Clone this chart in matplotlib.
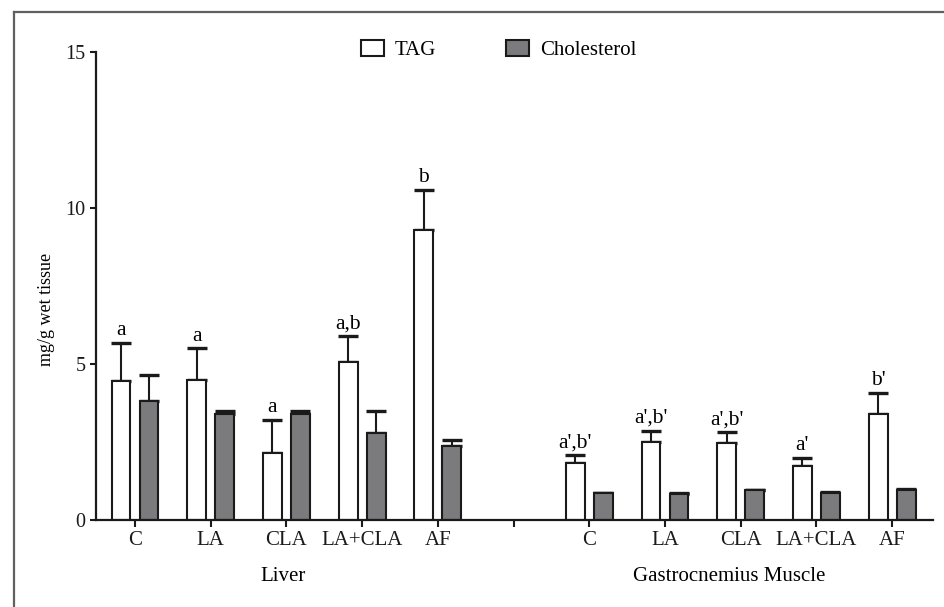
import numpy as np
import matplotlib
matplotlib.use('Agg')
import matplotlib.pyplot as plt
from matplotlib.lines import Line2D
from matplotlib.patches import Patch

plt.rcParams['font.family'] = ['Liberation Serif', 'DejaVu Serif']

groups = ['C', 'LA', 'CLA', 'LA+CLA', 'AF']
tissues = ['Liver', 'Gastrocnemius Muscle']

# liver
tag_liver = [4.45, 4.49, 2.16, 5.08, 9.29]
tag_liver_err = [1.23, 1.01, 1.04, 0.82, 1.29]
chol_liver = [3.81, 3.39, 3.39, 2.80, 2.37]
chol_liver_err = [0.83, 0.11, 0.11, 0.69, 0.19]
lett_liver = ['a', 'a', 'a', 'a,b', 'b']

# gastrocnemius muscle
tag_muscle = [1.82, 2.50, 2.48, 1.74, 3.41]
tag_muscle_err = [0.25, 0.36, 0.34, 0.26, 0.66]
chol_muscle = [0.85, 0.83, 0.95, 0.88, 0.97]
chol_muscle_err = [0.03, 0.02, 0.02, 0.03, 0.03]
lett_muscle = ["a',b'", "a',b'", "a',b'", "a'", "b'"]

x = np.r_[np.arange(5), np.arange(6, 11)]
tag = np.array(tag_liver + tag_muscle)
tag_err = np.array(tag_liver_err + tag_muscle_err)
chol = np.array(chol_liver + chol_muscle)
chol_err = np.array(chol_liver_err + chol_muscle_err)
letters = lett_liver + lett_muscle

GRAY = '#7b7b7e'
EDGE = '#1a1a1a'
w = 0.25
off = 0.185

fig = plt.figure(figsize=(9.45, 6.07), dpi=100)
ax = fig.add_axes([0.1016, 0.1433, 0.8857, 0.771])

err_kw = dict(fmt='none', ecolor=EDGE, elinewidth=1.5, capsize=7, capthick=2.4, zorder=1)
ax.errorbar(x - off, tag, yerr=[np.zeros_like(tag_err), tag_err], **err_kw)
ax.errorbar(x + off, chol, yerr=[np.zeros_like(chol_err), chol_err], **err_kw)
ax.bar(x - off, tag, width=w, color='white', edgecolor=EDGE, linewidth=1.5, zorder=2)
ax.bar(x + off, chol, width=w, color=GRAY, edgecolor=EDGE, linewidth=1.5, zorder=2)

for xi, top, lab in zip(x - off, tag + tag_err, letters):
    ax.annotate(lab, (xi, top), xytext=(0, 2), textcoords='offset points',
                ha='center', va='bottom', fontsize=15.5)

ax.set_xlim(-0.515, 10.54)
ax.set_ylim(0, 15)
ax.set_yticks([0, 5, 10, 15])
ax.set_xticks(np.arange(11))
ax.set_xticklabels(groups + [''] + groups)
ax.tick_params(axis='both', labelsize=15, width=1.5, length=4, direction='out', colors=EDGE)
ax.tick_params(axis='y', labelsize=14.5)
ax.tick_params(axis='x', length=5, pad=3)
for s in ['top', 'right']:
    ax.spines[s].set_visible(False)
for s in ['left', 'bottom']:
    ax.spines[s].set_linewidth(1.6)
    ax.spines[s].set_color(EDGE)

ax.set_ylabel('mg/g wet tissue', fontsize=13)
ax.yaxis.set_label_coords(-0.049, 0.45)

ax.text(1.95, -0.12, tissues[0], transform=ax.get_xaxis_transform(),
        ha='center', va='center', fontsize=15)
ax.text(7.85, -0.12, tissues[1], transform=ax.get_xaxis_transform(),
        ha='center', va='center', fontsize=15)

handles = [Patch(facecolor='white', edgecolor=EDGE, linewidth=1.5),
           Patch(facecolor=GRAY, edgecolor=EDGE, linewidth=1.5)]
ax.legend(handles, ['TAG', 'Cholesterol'], ncol=2, frameon=False, fontsize=15,
          loc='center left', bbox_to_anchor=(0.294, 1.004), handlelength=1.1,
          handleheight=0.8, handletextpad=0.5, columnspacing=3.4)

# outer frame
fig.add_artist(Line2D([14 / 945, 1], [1 - 12 / 607, 1 - 12 / 607], color='#606060', lw=1.6))
fig.add_artist(Line2D([14 / 945, 14 / 945], [0, 1 - 12 / 607], color='#606060', lw=1.6))

fig.savefig('out.png', dpi=100)
